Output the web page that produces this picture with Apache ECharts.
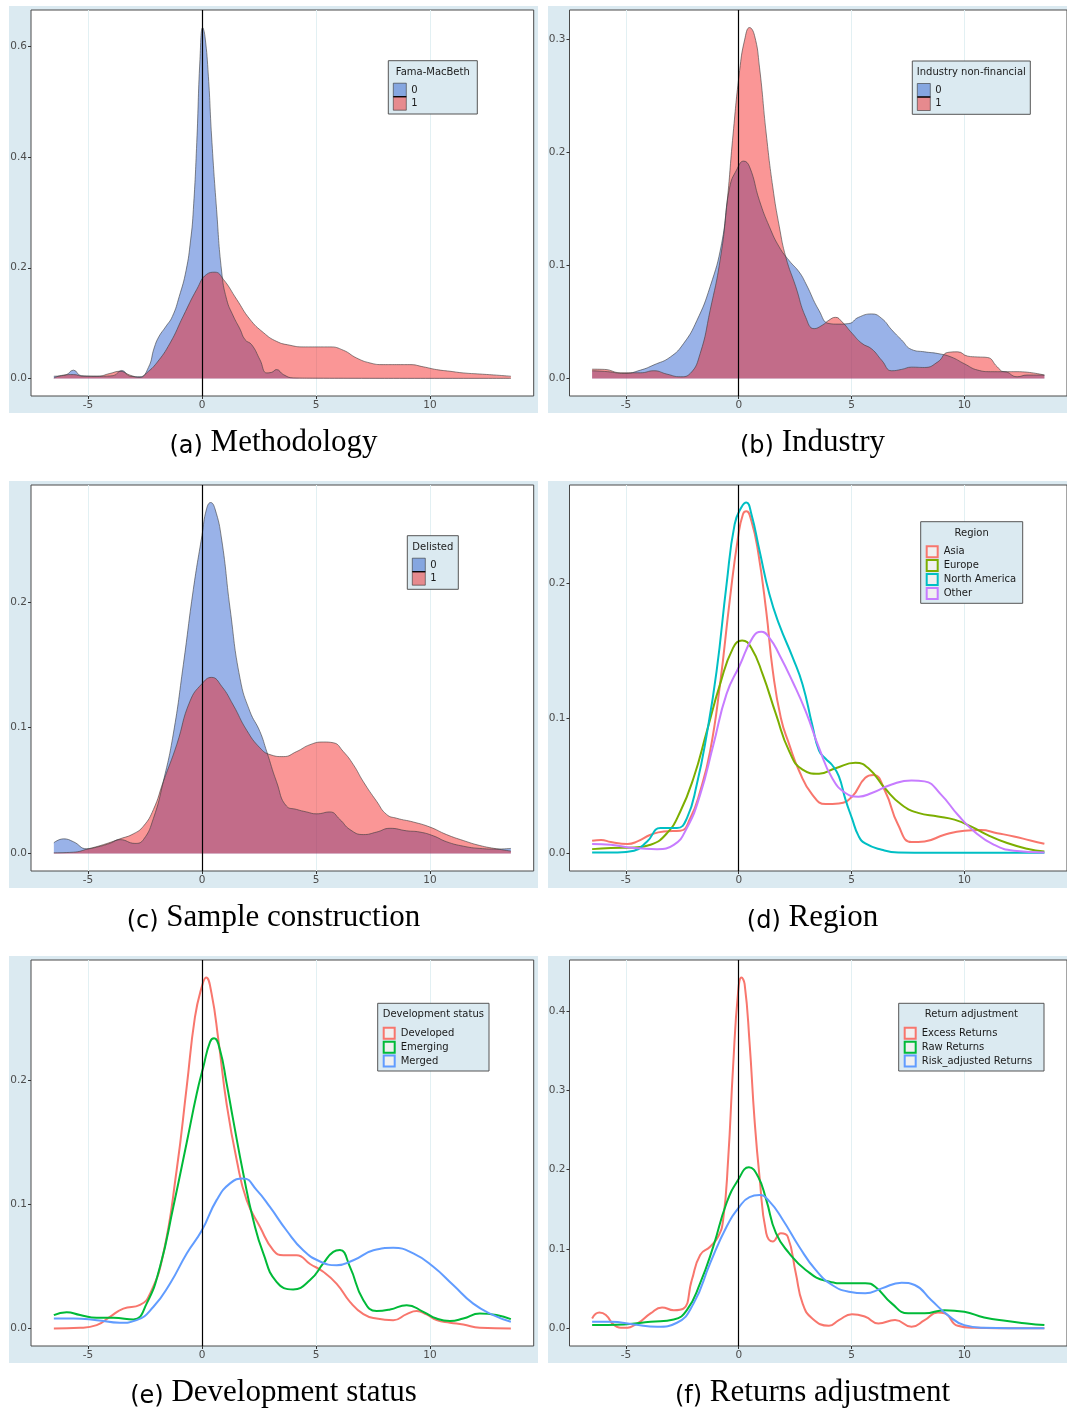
<!DOCTYPE html>
<html>
<head>
<meta charset="utf-8">
<script src="https://cdn.jsdelivr.net/npm/echarts@6/dist/echarts.min.js"></script>
<style>
  html, body { margin: 0; padding: 0; background: #ffffff; }
  #chart { width: 1067px; height: 1411px; }
</style>
</head>
<body>
<div id="chart"></div>
<script>
// ---- Tick values and category labels ----
const xTicks = [-5, 0, 5, 10];
const methodologyYTicks = [0, 0.2, 0.4, 0.6];
const industryYTicks = [0, 0.1, 0.2, 0.3];
const sampleYTicks = [0, 0.1, 0.2];
const regionYTicks = [0, 0.1, 0.2];
const developmentYTicks = [0, 0.1, 0.2];
const returnsYTicks = [0, 0.1, 0.2, 0.3, 0.4];
const binaryLevels = ['0', '1'];
const regionLevels = ['Asia', 'Europe', 'North America', 'Other'];
const developmentLevels = ['Developed', 'Emerging', 'Merged'];
const returnLevels = ['Excess Returns', 'Raw Returns', 'Risk_adjusted Returns'];

// ---- Density estimates: (a) Methodology, Fama-MacBeth = 0 / 1 ----
const famaMacBeth0X = [-6.5, -6.0, -5.64, -5.3, -4.5, -3.9, -3.52, -3.16, -2.72, -2.35, -2.1, -1.9, -1.6, -1.3, -1.0, -0.7, -0.5, -0.38, -0.23, -0.09, 0.03, 0.13, 0.28, 0.42, 0.64, 0.86, 1.08, 1.37, 1.67, 1.89, 2.18, 2.54, 2.84, 3.05, 3.27, 3.57, 4.0, 5.0, 7.0, 9.0, 11.0, 13.55];
const famaMacBeth0Y = [0.004, 0.006, 0.015, 0.005, 0.004, 0.005, 0.0145, 0.004, 0.003, 0.02, 0.055, 0.075, 0.093, 0.112, 0.148, 0.195, 0.25, 0.305, 0.426, 0.576, 0.634, 0.618, 0.546, 0.438, 0.305, 0.194, 0.143, 0.113, 0.089, 0.07, 0.061, 0.034, 0.01, 0.011, 0.016, 0.007, 0.001, 0.0005, 0.0003, 0.0002, 0.0002, 0.0002];
const famaMacBeth1X = [-6.5, -6.08, -5.64, -5.2, -4.6, -4.04, -3.6, -3.16, -2.72, -2.43, -1.99, -1.4, -0.82, -0.23, 0.2, 0.57, 0.94, 1.52, 2.1, 2.69, 3.27, 3.86, 4.44, 5.03, 5.61, 6.2, 6.78, 7.37, 7.95, 8.54, 9.12, 9.71, 10.29, 10.88, 11.46, 12.19, 12.92, 13.55];
const famaMacBeth1Y = [0.001, 0.006, 0.007, 0.004, 0.004, 0.009, 0.013, 0.006, 0.002, 0.01, 0.028, 0.064, 0.113, 0.161, 0.188, 0.192, 0.179, 0.143, 0.107, 0.083, 0.067, 0.06, 0.057, 0.057, 0.057, 0.051, 0.037, 0.028, 0.025, 0.025, 0.025, 0.021, 0.016, 0.013, 0.01, 0.008, 0.006, 0.004];

// ---- (b) Industry non-financial = 0 / 1 ----
const industry0X = [-6.5, -5.81, -5.08, -4.35, -3.76, -3.03, -2.44, -1.86, -1.27, -0.76, -0.4, -0.1, 0.22, 0.48, 0.92, 1.36, 1.8, 2.24, 2.68, 2.97, 3.56, 4.0, 4.44, 4.88, 5.31, 5.9, 6.34, 6.78, 7.22, 7.66, 8.24, 8.83, 9.41, 10.0, 10.59, 11.17, 11.76, 12.34, 12.78, 13.55];
const industry0Y = [0.0068, 0.006, 0.0044, 0.0074, 0.012, 0.019, 0.031, 0.051, 0.081, 0.119, 0.169, 0.184, 0.192, 0.187, 0.157, 0.134, 0.116, 0.104, 0.094, 0.084, 0.06, 0.0485, 0.048, 0.0485, 0.054, 0.057, 0.053, 0.043, 0.034, 0.0256, 0.0235, 0.022, 0.019, 0.013, 0.0074, 0.006, 0.006, 0.0015, 0.003, 0.003];
const industry1X = [-6.5, -5.96, -5.23, -4.35, -3.76, -3.18, -2.59, -2.15, -1.71, -1.27, -0.83, -0.54, -0.25, 0.04, 0.26, 0.48, 0.7, 0.92, 1.22, 1.51, 1.8, 2.09, 2.53, 2.97, 3.34, 3.7, 4.0, 4.29, 4.58, 5.02, 5.46, 5.9, 6.34, 6.78, 7.22, 7.66, 8.24, 8.83, 9.27, 9.71, 10.15, 10.59, 11.03, 11.46, 11.76, 12.34, 13.55];
const industry1Y = [0.0082, 0.008, 0.005, 0.005, 0.0068, 0.0038, 0.0015, 0.0044, 0.022, 0.06, 0.104, 0.151, 0.216, 0.272, 0.299, 0.31, 0.303, 0.275, 0.216, 0.169, 0.134, 0.107, 0.081, 0.054, 0.044, 0.047, 0.0515, 0.054, 0.05, 0.04, 0.031, 0.026, 0.016, 0.0068, 0.008, 0.01, 0.0097, 0.0147, 0.023, 0.0235, 0.0197, 0.019, 0.0185, 0.0103, 0.006, 0.006, 0.003];

// ---- (c) Sample construction, Delisted = 0 / 1 ----
const delisted0X = [-6.5, -6.08, -5.64, -5.06, -4.62, -4.04, -3.6, -2.94, -2.57, -2.13, -1.7, -1.26, -0.82, -0.38, 0, 0.2, 0.38, 0.57, 0.86, 1.23, 1.67, 2.1, 2.54, 2.84, 3.27, 3.71, 4.15, 4.59, 5.03, 5.61, 6.05, 6.49, 7.08, 7.66, 8.25, 8.98, 9.56, 10.15, 10.73, 11.46, 12.19, 12.92, 13.55];
const delisted0Y = [0.0085, 0.0116, 0.0093, 0.0037, 0.005, 0.008, 0.011, 0.008, 0.011, 0.028, 0.057, 0.095, 0.15, 0.21, 0.253, 0.274, 0.279, 0.274, 0.25, 0.195, 0.139, 0.113, 0.097, 0.081, 0.057, 0.0376, 0.035, 0.033, 0.0315, 0.033, 0.027, 0.019, 0.015, 0.017, 0.02, 0.018, 0.017, 0.014, 0.0093, 0.0058, 0.004, 0.0035, 0.004];
const delisted1X = [-6.5, -5.64, -4.99, -4.33, -3.6, -3.01, -2.57, -2.13, -1.7, -1.11, -0.53, 0, 0.42, 0.86, 1.37, 1.96, 2.54, 2.98, 3.57, 4.15, 4.74, 5.32, 5.76, 6.2, 6.64, 7.08, 7.66, 8.1, 8.54, 9.27, 10.0, 10.73, 11.46, 12.19, 12.92, 13.55];
const delisted1Y = [0.0005, 0.001, 0.0037, 0.007, 0.0116, 0.0156, 0.0217, 0.035, 0.057, 0.0865, 0.121, 0.135, 0.14, 0.133, 0.118, 0.098, 0.084, 0.0786, 0.077, 0.081, 0.0865, 0.0886, 0.088, 0.081, 0.0706, 0.057, 0.0415, 0.031, 0.028, 0.025, 0.021, 0.015, 0.0103, 0.0063, 0.0037, 0.0019];

// ---- (d) Region ----
const asiaX = [-6.5, -6.1, -5.67, -4.93, -4.49, -3.91, -3.32, -2.59, -2.15, -1.71, -1.27, -0.83, -0.4, -0.03, 0.19, 0.34, 0.56, 0.85, 1.22, 1.51, 1.87, 2.24, 2.68, 3.26, 3.85, 4.44, 5.02, 5.61, 5.97, 6.49, 7.07, 7.66, 8.24, 9.12, 10.0, 10.73, 11.46, 12.2, 12.93, 13.55];
const asiaY = [0.0094, 0.01, 0.0084, 0.007, 0.0089, 0.0138, 0.0163, 0.0168, 0.026, 0.046, 0.0755, 0.125, 0.187, 0.234, 0.251, 0.253, 0.246, 0.224, 0.179, 0.135, 0.1, 0.0805, 0.061, 0.0435, 0.0365, 0.037, 0.042, 0.056, 0.058, 0.046, 0.021, 0.0084, 0.0089, 0.0138, 0.0168, 0.0173, 0.015, 0.0126, 0.0096, 0.0072];
const europeX = [-6.5, -5.67, -4.64, -3.91, -3.18, -2.59, -2.0, -1.42, -0.83, -0.25, 0.15, 0.56, 1.07, 1.65, 2.24, 2.83, 3.56, 4.29, 5.17, 5.75, 6.49, 7.22, 7.95, 8.83, 9.56, 10.29, 11.02, 11.9, 12.78, 13.55];
const europeY = [0.0032, 0.004, 0.0044, 0.0064, 0.015, 0.031, 0.056, 0.09, 0.125, 0.152, 0.1575, 0.152, 0.132, 0.103, 0.0755, 0.062, 0.059, 0.063, 0.067, 0.063, 0.048, 0.036, 0.03, 0.0274, 0.025, 0.02, 0.0138, 0.0077, 0.0035, 0.0015];
const northAmericaX = [-6.5, -5.37, -4.64, -4.06, -3.47, -2.74, -2.3, -1.86, -1.42, -0.98, -0.54, -0.18, 0.12, 0.34, 0.56, 0.92, 1.36, 1.8, 2.39, 2.83, 3.26, 3.56, 3.85, 4.14, 4.44, 4.73, 5.02, 5.31, 5.61, 6.34, 7.07, 8.5, 10.0, 11.5, 13.55];
const northAmericaY = [0.0007, 0.0007, 0.002, 0.0089, 0.0188, 0.0188, 0.026, 0.051, 0.088, 0.135, 0.199, 0.2435, 0.256, 0.2595, 0.251, 0.224, 0.1916, 0.169, 0.145, 0.125, 0.095, 0.076, 0.07, 0.0654, 0.057, 0.04, 0.026, 0.013, 0.0074, 0.0027, 0.0007, 0.0005, 0.0005, 0.0005, 0.0005];
const otherX = [-6.5, -5.67, -4.64, -3.62, -2.88, -2.3, -1.71, -1.13, -0.54, 0.04, 0.63, 1.0, 1.36, 1.8, 2.39, 2.97, 3.56, 4.14, 4.73, 5.31, 5.9, 6.78, 7.66, 8.24, 8.97, 9.71, 10.44, 11.32, 12.2, 13.55];
const otherY = [0.007, 0.0064, 0.004, 0.0032, 0.0064, 0.0188, 0.0435, 0.08, 0.118, 0.139, 0.16, 0.164, 0.1595, 0.147, 0.127, 0.105, 0.078, 0.0558, 0.0447, 0.042, 0.0447, 0.051, 0.054, 0.0533, 0.0435, 0.0286, 0.0163, 0.0064, 0.002, 0.0007];

// ---- (e) Development status ----
const developedX = [-6.5, -5.35, -4.62, -4.04, -3.45, -2.72, -2.28, -1.7, -1.11, -0.67, -0.31, -0.01, 0.18, 0.42, 0.72, 1.08, 1.52, 1.96, 2.54, 3.13, 3.57, 4.15, 4.74, 5.32, 5.91, 6.49, 7.08, 7.66, 8.39, 8.98, 9.42, 9.85, 10.29, 10.88, 11.46, 12.19, 13.55];
const developedY = [0, 0.0005, 0.0027, 0.0094, 0.016, 0.019, 0.028, 0.06, 0.128, 0.195, 0.251, 0.2755, 0.283, 0.27, 0.2325, 0.181, 0.136, 0.1035, 0.082, 0.063, 0.059, 0.059, 0.052, 0.0457, 0.036, 0.0215, 0.0116, 0.008, 0.0067, 0.0116, 0.014, 0.0113, 0.0067, 0.0046, 0.0032, 0.0005, 0];
const emergingX = [-6.5, -5.94, -5.35, -4.62, -3.89, -3.01, -2.43, -1.84, -1.26, -0.67, -0.23, 0.06, 0.35, 0.53, 0.79, 1.08, 1.37, 1.81, 2.25, 2.69, 3.27, 4.0, 4.74, 5.32, 5.76, 6.05, 6.49, 7.08, 7.66, 8.25, 8.98, 9.71, 10.29, 10.88, 11.46, 12.19, 12.92, 13.55];
const emergingY = [0.0108, 0.013, 0.0108, 0.0086, 0.0086, 0.0073, 0.02, 0.05, 0.098, 0.15, 0.1895, 0.211, 0.231, 0.234, 0.2245, 0.1976, 0.168, 0.125, 0.0874, 0.0605, 0.0376, 0.0315, 0.039, 0.0524, 0.0618, 0.0632, 0.0497, 0.0228, 0.014, 0.0153, 0.0188, 0.0134, 0.008, 0.006, 0.008, 0.012, 0.0108, 0.0075];
const mergedX = [-6.5, -5.64, -4.62, -3.6, -2.87, -2.13, -1.4, -0.67, -0.01, 0.64, 1.23, 1.81, 2.4, 2.98, 3.71, 4.44, 5.18, 5.91, 6.64, 7.52, 8.39, 9.27, 10.15, 11.02, 11.9, 12.78, 13.55];
const mergedY = [0.008, 0.008, 0.0067, 0.0046, 0.0067, 0.0175, 0.0363, 0.0605, 0.079, 0.1035, 0.117, 0.121, 0.1116, 0.098, 0.079, 0.063, 0.054, 0.051, 0.055, 0.063, 0.065, 0.0605, 0.0497, 0.035, 0.02, 0.0108, 0.0054];

// ---- (f) Returns adjustment ----
const excessX = [-6.5, -6.18, -5.89, -5.52, -5.08, -4.49, -3.91, -3.4, -2.88, -2.45, -2.08, -1.71, -1.27, -0.91, -0.69, -0.47, -0.25, -0.03, 0.12, 0.26, 0.48, 0.7, 0.92, 1.22, 1.51, 1.87, 2.17, 2.53, 2.83, 3.26, 4.0, 4.44, 5.02, 5.61, 6.19, 6.93, 7.66, 8.24, 8.83, 9.12, 9.71, 10.44, 11.5, 13.55];
const excessY = [0.0126, 0.02, 0.017, 0.0042, 0.0008, 0.0063, 0.019, 0.0265, 0.023, 0.025, 0.061, 0.0926, 0.103, 0.1158, 0.137, 0.2126, 0.33, 0.423, 0.442, 0.434, 0.36, 0.263, 0.1916, 0.12, 0.1095, 0.12, 0.1158, 0.0695, 0.0316, 0.0126, 0.0034, 0.0105, 0.018, 0.0147, 0.0063, 0.0105, 0.0021, 0.0105, 0.02, 0.019, 0.0034, 0.0008, 0.0003, 0.0003];
const rawX = [-6.5, -5.08, -3.91, -2.88, -2.3, -1.71, -1.13, -0.54, -0.03, 0.45, 0.85, 1.22, 1.65, 2.24, 2.97, 3.85, 4.73, 5.61, 6.05, 6.78, 7.51, 8.24, 9.12, 10.0, 10.88, 11.9, 12.78, 13.55];
const rawY = [0.0042, 0.005, 0.0084, 0.0114, 0.023, 0.057, 0.103, 0.158, 0.187, 0.203, 0.1916, 0.162, 0.12, 0.0947, 0.0737, 0.06, 0.057, 0.057, 0.0526, 0.0316, 0.019, 0.019, 0.023, 0.021, 0.0139, 0.0093, 0.0063, 0.0042];
const riskAdjustedX = [-6.5, -5.67, -4.64, -3.62, -2.74, -2.0, -1.27, -0.54, 0.04, 0.48, 0.92, 1.36, 1.95, 2.68, 3.41, 4.14, 4.88, 5.61, 6.34, 7.22, 7.8, 8.53, 9.27, 10.0, 10.88, 12.0, 13.55];
const riskAdjustedY = [0.0084, 0.0084, 0.005, 0.0021, 0.0072, 0.0316, 0.082, 0.128, 0.1537, 0.1655, 0.168, 0.16, 0.137, 0.103, 0.0737, 0.0547, 0.0463, 0.0442, 0.0505, 0.0577, 0.0547, 0.0358, 0.0168, 0.0042, 0.0008, 0.0003, 0.0003];

// ---- Styling ----
const PANEL_BG = '#dbeaf1';
const FILL_COLORS = ['rgba(28,84,204,0.45)', 'rgba(245,22,22,0.45)'];
const REGION_COLORS = ['#F8766D', '#7CAE00', '#00BFC4', '#C77CFF'];
const TRIO_COLORS = ['#F8766D', '#00BA38', '#619CFF'];
const AXIS_FONT = 'DejaVu Sans';
const LEGEND_FONT_SIZE = 10;

const COLS = [
  { gridLeft: 31, gridWidth: 502.7, bgX: 9, bgW: 529, cx: 273.5 },
  { gridLeft: 569.5, gridWidth: 502, bgX: 548, bgW: 530, cx: 812.5 }
];
const ROWS = [
  { gridTop: 10, bgY: 6, capY: 443 },
  { gridTop: 485, bgY: 481, capY: 918 },
  { gridTop: 960, bgY: 956, capY: 1393 }
];
const GRID_H = 386;

const panels = [
  { tag: 'a', caption: 'Methodology', col: 0, row: 0, kind: 'fill', title: 'Fama-MacBeth',
    names: binaryLevels, colors: FILL_COLORS, yTicks: methodologyYTicks,
    series: [[famaMacBeth0X, famaMacBeth0Y], [famaMacBeth1X, famaMacBeth1Y]], box: [388.3, 60.7, 89, 53.3] },
  { tag: 'b', caption: 'Industry', col: 1, row: 0, kind: 'fill', title: 'Industry non-financial',
    names: binaryLevels, colors: FILL_COLORS, yTicks: industryYTicks,
    series: [[industry0X, industry0Y], [industry1X, industry1Y]], box: [912.3, 61, 118, 53.3] },
  { tag: 'c', caption: 'Sample construction', col: 0, row: 1, kind: 'fill', title: 'Delisted',
    names: binaryLevels, colors: FILL_COLORS, yTicks: sampleYTicks,
    series: [[delisted0X, delisted0Y], [delisted1X, delisted1Y]], box: [407.3, 535.7, 51, 53.6] },
  { tag: 'd', caption: 'Region', col: 1, row: 1, kind: 'line', title: 'Region',
    names: regionLevels, colors: REGION_COLORS, yTicks: regionYTicks,
    series: [[asiaX, asiaY], [europeX, europeY], [northAmericaX, northAmericaY], [otherX, otherY]], box: [920.7, 521.7, 102, 81.6] },
  { tag: 'e', caption: 'Development status', col: 0, row: 2, kind: 'line', title: 'Development status',
    names: developmentLevels, colors: TRIO_COLORS, yTicks: developmentYTicks,
    series: [[developedX, developedY], [emergingX, emergingY], [mergedX, mergedY]], box: [377.7, 1003.3, 111.3, 67.7] },
  { tag: 'f', caption: 'Returns adjustment', col: 1, row: 2, kind: 'line', title: 'Return adjustment',
    names: returnLevels, colors: TRIO_COLORS, yTicks: returnsYTicks,
    series: [[excessX, excessY], [rawX, rawY], [riskAdjustedX, riskAdjustedY]], box: [898.7, 1003.3, 145.3, 67.7] }
];

// Shared x range: data extent padded by 5% on each side
let xLo = Infinity, xHi = -Infinity;
panels.forEach(p => p.series.forEach(([xs]) => { xLo = Math.min(xLo, ...xs); xHi = Math.max(xHi, ...xs); }));
const xPad = 0.05 * (xHi - xLo);
const X_MIN = xLo - xPad, X_MAX = xHi + xPad;

const grids = [], xAxes = [], yAxes = [], series = [], graphics = [];

panels.forEach((p, i) => {
  const c = COLS[p.col], r = ROWS[p.row];
  let peak = 0;
  p.series.forEach(([, ys]) => { peak = Math.max(peak, ...ys); });

  grids.push({
    left: c.gridLeft, top: r.gridTop, width: c.gridWidth, height: GRID_H,
    show: true, backgroundColor: '#ffffff', borderColor: '#4a4a4a', borderWidth: 1
  });

  xAxes.push({
    type: 'value', gridIndex: i, min: X_MIN, max: X_MAX,
    axisLine: { show: false, onZero: false },
    axisTick: { show: true, length: 3, customValues: xTicks, lineStyle: { color: '#333', width: 1 } },
    axisLabel: { customValues: xTicks, margin: 4, fontSize: 10.5, fontFamily: AXIS_FONT, color: '#4d4d4d' },
    splitLine: { show: true, lineStyle: { color: '#e2f0f3', width: 1 } }
  });

  yAxes.push({
    type: 'value', gridIndex: i, min: -0.05 * peak, max: 1.05 * peak,
    axisLine: { show: false, onZero: false },
    axisTick: { show: true, length: 3, customValues: p.yTicks, lineStyle: { color: '#333', width: 1 } },
    axisLabel: { customValues: p.yTicks, margin: 4, fontSize: 10.5, fontFamily: AXIS_FONT, color: '#4d4d4d',
                 formatter: v => v.toFixed(1) },
    splitLine: { show: false }
  });

  // reference line at zero
  series.push({
    type: 'line', xAxisIndex: i, yAxisIndex: i, data: [], z: 1, silent: true,
    markLine: {
      silent: true, symbol: ['none', 'none'], label: { show: false },
      lineStyle: { color: '#000', width: 1.2, type: 'solid' },
      emphasis: { disabled: true },
      data: [{ xAxis: 0 }]
    }
  });

  p.series.forEach(([xs, ys], k) => {
    const s = {
      type: 'line', name: p.names[k], xAxisIndex: i, yAxisIndex: i,
      data: xs.map((x, j) => [x, ys[j]]),
      smooth: 0.5, showSymbol: false, symbol: 'none', z: 2, silent: true
    };
    if (p.kind === 'fill') {
      s.lineStyle = { color: '#3a3a3a', width: 0.6 };
      s.areaStyle = { color: p.colors[k], opacity: 1 };
    } else {
      s.lineStyle = { color: p.colors[k], width: 2 };
    }
    series.push(s);
  });

  // panel backdrop
  graphics.push({ type: 'rect', z: -5, silent: true,
    shape: { x: c.bgX, y: r.bgY, width: c.bgW, height: 407 }, style: { fill: PANEL_BG } });

  // sub-figure caption
  graphics.push({ type: 'text', z: 5, silent: true, x: c.cx, y: r.capY,
    style: {
      text: '{l|(' + p.tag + ')} {r|' + p.caption + '}',
      align: 'center', verticalAlign: 'middle', textAlign: 'center', textVerticalAlign: 'middle',
      fill: '#000', fontFamily: 'Liberation Serif', fontSize: 31,
      rich: {
        l: { fontFamily: 'DejaVu Sans', fontSize: 24, fill: '#000', verticalAlign: 'bottom' },
        r: { fontFamily: 'Liberation Serif', fontSize: 31, fill: '#000', verticalAlign: 'bottom' }
      }
    } });

  // legend
  const [bx, by, bw, bh] = p.box;
  graphics.push({ type: 'rect', z: 20, silent: true,
    shape: { x: bx, y: by, width: bw, height: bh }, style: { fill: PANEL_BG, stroke: '#555', lineWidth: 1 } });
  graphics.push({ type: 'text', z: 21, silent: true, x: bx + bw / 2, y: by + 11.5,
    style: { text: p.title, fontFamily: AXIS_FONT, fontSize: LEGEND_FONT_SIZE, fill: '#1a1a1a',
             align: 'center', verticalAlign: 'middle', textAlign: 'center', textVerticalAlign: 'middle' } });
  p.names.forEach((nm, k) => {
    let cy;
    if (p.kind === 'fill') {
      const sy = by + 22.5 + k * 13.5;
      cy = sy + 6.75;
      graphics.push({ type: 'rect', z: 21, silent: true,
        shape: { x: bx + 5, y: sy, width: 13, height: 13.5 },
        style: { fill: p.colors[k], stroke: '#333', lineWidth: 0.6 } });
      if (k === 0) {
        graphics.push({ type: 'line', z: 22, silent: true,
          shape: { x1: bx + 5, y1: sy + 13.5, x2: bx + 18, y2: sy + 13.5 },
          style: { stroke: '#000', lineWidth: 1.2 } });
      }
    } else {
      cy = by + 30 + k * 13.9;
      graphics.push({ type: 'rect', z: 21, silent: true,
        shape: { x: bx + 6, y: cy - 5.5, width: 11, height: 11 },
        style: { fill: '#f0f0f0', stroke: p.colors[k], lineWidth: 2 } });
    }
    graphics.push({ type: 'text', z: 21, silent: true, x: bx + 23, y: cy,
      style: { text: nm, fontFamily: AXIS_FONT, fontSize: LEGEND_FONT_SIZE, fill: '#1a1a1a',
               align: 'left', verticalAlign: 'middle', textAlign: 'left', textVerticalAlign: 'middle' } });
  });
});

const chart = echarts.init(document.getElementById('chart'), null, { renderer: 'canvas', width: 1067, height: 1411 });
chart.setOption({
  animation: false,
  backgroundColor: '#ffffff',
  grid: grids,
  xAxis: xAxes,
  yAxis: yAxes,
  series: series,
  graphic: { elements: graphics }
});
</script>
</body>
</html>
